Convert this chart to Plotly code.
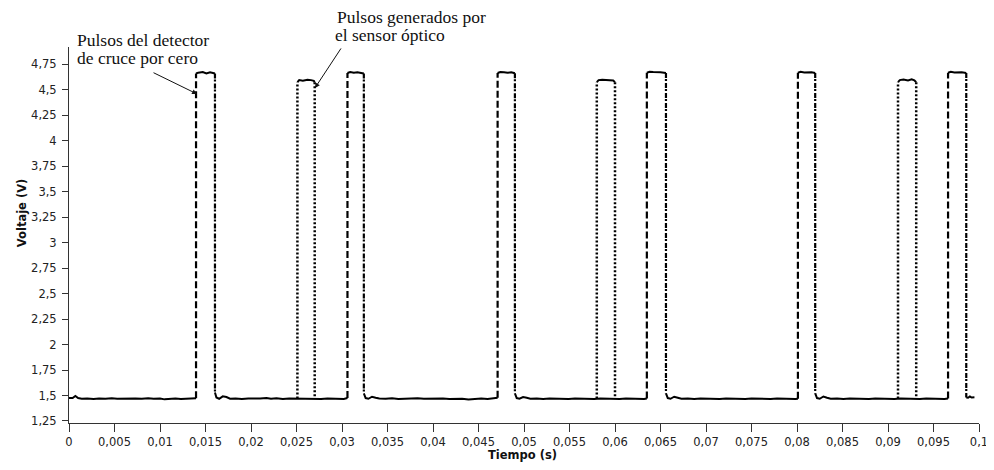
import plotly.graph_objects as go

# ---------------- data ----------------
# Zero-crossing detector pulses (dashed series): time (s) and voltage (V)
det_t = [
    0.0000, 0.0004, 0.0007, 0.0010, 0.0014, 0.0020, 0.0027, 0.0033, 0.0040, 0.0047,
    0.0053, 0.0060, 0.0067, 0.0073, 0.0080, 0.0087, 0.0093, 0.0100, 0.0105, 0.0110,
    0.0117, 0.0123, 0.0130, 0.0137, 0.01396,
    0.01396, 0.0142, 0.0147, 0.0151, 0.0155, 0.0159, 0.01604,
    0.01604, 0.0162, 0.0165, 0.0169, 0.0173, 0.0177, 0.0183, 0.0190, 0.0197, 0.0203,
    0.0210, 0.0217, 0.0222, 0.0228, 0.0235, 0.0242, 0.0250, 0.0256, 0.0263, 0.0270,
    0.0277, 0.0284, 0.0291, 0.0297, 0.0302, 0.0306,
    0.0306, 0.0309, 0.0313, 0.0317, 0.0321, 0.0324,
    0.0324, 0.0326, 0.0329, 0.0333, 0.0337, 0.0341, 0.0348, 0.0355, 0.0362, 0.0369,
    0.0376, 0.0383, 0.0390, 0.0397, 0.0404, 0.0411, 0.0418, 0.0425, 0.0432, 0.0439,
    0.0446, 0.0453, 0.0460, 0.0466, 0.0471,
    0.0471, 0.0474, 0.0478, 0.0482, 0.0486, 0.0490,
    0.0490, 0.0492, 0.0495, 0.0499, 0.0503, 0.0507, 0.0514, 0.0521, 0.0528, 0.0535,
    0.0542, 0.0549, 0.0556, 0.0563, 0.0570, 0.0577, 0.0584, 0.0591, 0.0598, 0.0605,
    0.0612, 0.0619, 0.0626, 0.0632, 0.0635,
    0.0635, 0.0638, 0.0642, 0.0646, 0.0650, 0.0656,
    0.0656, 0.0658, 0.0661, 0.0665, 0.0669, 0.0673, 0.0680, 0.0687, 0.0694, 0.0701,
    0.0708, 0.0715, 0.0722, 0.0729, 0.0736, 0.0743, 0.0750, 0.0757, 0.0764, 0.0771,
    0.0778, 0.0785, 0.0792, 0.0798, 0.0801,
    0.0801, 0.0804, 0.0808, 0.0812, 0.0816, 0.0820,
    0.0820, 0.0822, 0.0825, 0.0829, 0.0833, 0.0837, 0.0844, 0.0851, 0.0858, 0.0865,
    0.0872, 0.0879, 0.0886, 0.0893, 0.0900, 0.0907, 0.0914, 0.0921, 0.0928, 0.0935,
    0.0942, 0.0949, 0.0956, 0.0962, 0.0966,
    0.0966, 0.0969, 0.0973, 0.0977, 0.0981, 0.0986,
    0.0986, 0.0988, 0.0990, 0.0992, 0.0995,
]
det_v = [
    1.475, 1.475, 1.495, 1.475, 1.468, 1.470, 1.465, 1.470, 1.467, 1.472,
    1.468, 1.470, 1.466, 1.470, 1.468, 1.472, 1.467, 1.470, 1.462, 1.468,
    1.470, 1.466, 1.468, 1.470, 1.472,
    4.660, 4.668, 4.675, 4.660, 4.672, 4.668, 4.660,
    1.530, 1.480, 1.468, 1.492, 1.485, 1.468, 1.470, 1.465, 1.470, 1.467,
    1.470, 1.475, 1.468, 1.472, 1.466, 1.470, 1.468, 1.472, 1.466, 1.470,
    1.465, 1.470, 1.467, 1.470, 1.466, 1.475,
    4.665, 4.675, 4.668, 4.672, 4.665, 4.660,
    1.520, 1.475, 1.468, 1.488, 1.478, 1.470, 1.468, 1.472, 1.466, 1.470,
    1.468, 1.472, 1.467, 1.470, 1.466, 1.470, 1.465, 1.470, 1.468, 1.460,
    1.468, 1.470, 1.465, 1.470, 1.478,
    4.665, 4.675, 4.672, 4.668, 4.672, 4.662,
    1.520, 1.475, 1.468, 1.485, 1.478, 1.468, 1.470, 1.466, 1.470, 1.468,
    1.472, 1.466, 1.470, 1.467, 1.470, 1.465, 1.470, 1.468, 1.470, 1.466,
    1.470, 1.467, 1.470, 1.466, 1.470,
    4.668, 4.676, 4.674, 4.674, 4.672, 4.665,
    1.520, 1.475, 1.468, 1.488, 1.478, 1.468, 1.470, 1.466, 1.470, 1.468,
    1.472, 1.466, 1.470, 1.467, 1.470, 1.465, 1.470, 1.468, 1.470, 1.466,
    1.470, 1.467, 1.470, 1.466, 1.468,
    4.668, 4.676, 4.670, 4.674, 4.672, 4.665,
    1.520, 1.475, 1.468, 1.490, 1.478, 1.468, 1.470, 1.466, 1.470, 1.468,
    1.472, 1.466, 1.470, 1.467, 1.470, 1.465, 1.470, 1.468, 1.470, 1.466,
    1.470, 1.467, 1.470, 1.466, 1.470,
    4.668, 4.676, 4.670, 4.674, 4.672, 4.665,
    1.480, 1.478, 1.490, 1.480, 1.482,
]

# Optical sensor pulses (dotted series): time (s) and voltage (V)
opt_t = [
    0.0251, 0.0251, 0.0253, 0.0257, 0.0262, 0.0266, 0.0269, 0.0270, 0.0270, None,
    0.0580, 0.0580, 0.0582, 0.0586, 0.0591, 0.0595, 0.0598, 0.0600, 0.0600, None,
    0.0911, 0.0911, 0.0913, 0.0917, 0.0922, 0.0926, 0.0929, 0.0931, 0.0931,
]
opt_v = [
    1.470, 4.575, 4.595, 4.590, 4.598, 4.595, 4.588, 4.575, 1.470, None,
    1.470, 4.575, 4.595, 4.598, 4.598, 4.598, 4.592, 4.575, 1.470, None,
    1.470, 4.575, 4.595, 4.600, 4.592, 4.602, 4.592, 4.575, 1.470,
]

x_tickvals = [0, 0.005, 0.01, 0.015, 0.02, 0.025, 0.03, 0.035, 0.04, 0.045, 0.05,
              0.055, 0.06, 0.065, 0.07, 0.075, 0.08, 0.085, 0.09, 0.095, 0.1]
x_ticktext = ["0", "0,005", "0,01", "0,015", "0,02", "0,025", "0,03", "0,035", "0,04",
              "0,045", "0,05", "0,055", "0,06", "0,065", "0,07", "0,075", "0,08",
              "0,085", "0,09", "0,095", "0,1"]
y_tickvals = [1.25, 1.5, 1.75, 2, 2.25, 2.5, 2.75, 3, 3.25, 3.5, 3.75, 4, 4.25, 4.5, 4.75]
y_ticktext = ["1,25", "1,5", "1,75", "2", "2,25", "2,5", "2,75", "3", "3,25", "3,5",
              "3,75", "4", "4,25", "4,5", "4,75"]

x_title = "Tiempo (s)"
y_title = "Voltaje (V)"
note_det = ["Pulsos del detector", "de cruce por cero"]
note_opt = ["Pulsos generados por", "el sensor óptico"]


def parts(ts, vs):
    """Split a step series into its level parts and its rising / falling edges."""
    hx, hy, rx, ry, fx, fy = [], [], [], [], [], []
    for i, (t, v) in enumerate(zip(ts, vs)):
        if i > 0 and t is not None and ts[i - 1] is not None and t == ts[i - 1]:
            if v > vs[i - 1]:
                rx += [t, t, None]; ry += [vs[i - 1], v, None]
            else:
                fx += [t, t, None]; fy += [vs[i - 1], v, None]
            hx.append(None); hy.append(None)
        hx.append(t); hy.append(v)
    return hx, hy, rx, ry, fx, fy


ink = "#000000"
fig = go.Figure()

dh_x, dh_y, dr_x, dr_y, df_x, df_y = parts(det_t, det_v)
oh_x, oh_y, or_x, or_y, of_x, of_y = parts(opt_t, opt_v)

fig.add_trace(go.Scatter(x=oh_x, y=oh_y, mode="lines", line=dict(color=ink, width=2), hoverinfo="skip"))
fig.add_trace(go.Scatter(x=or_x + of_x, y=or_y + of_y, mode="lines",
                         line=dict(color=ink, width=2.5, dash="2px,2px"), hoverinfo="skip"))
fig.add_trace(go.Scatter(x=dh_x, y=dh_y, mode="lines", line=dict(color=ink, width=2), hoverinfo="skip"))
fig.add_trace(go.Scatter(x=dr_x, y=dr_y, mode="lines",
                         line=dict(color=ink, width=2.2, dash="7px,3px"), hoverinfo="skip"))
fig.add_trace(go.Scatter(x=df_x, y=df_y, mode="lines",
                         line=dict(color=ink, width=2.2, dash="5px,1px,2px,2px"), hoverinfo="skip"))

tick_font = dict(family="DejaVu Sans", size=11.5, color="#222222")
fig.update_xaxes(range=[0, 0.1], tickvals=x_tickvals, ticktext=x_ticktext,
                 showgrid=False, zeroline=False, showline=True, linecolor="#333333",
                 linewidth=1, ticks="outside", ticklen=8, tickcolor="#333333",
                 tickfont=tick_font, fixedrange=True)
fig.update_yaxes(range=[1.23, 4.92], tickvals=y_tickvals, ticktext=y_ticktext,
                 showgrid=False, zeroline=False, showline=True, linecolor="#333333",
                 linewidth=1, ticks="outside", ticklen=6, tickcolor="#333333",
                 ticklabelstandoff=3,
                 tickfont=tick_font, fixedrange=True)

serif = dict(family="Liberation Serif", size=17.5, color="#111111")
title_font = dict(family="DejaVu Sans", size=11.5, color="#111111")
ann = [
    dict(text="<b>" + x_title + "</b>", xref="paper", yref="paper", x=0.498, y=-0.085,
         xanchor="center", yanchor="middle", showarrow=False, font=title_font),
    dict(text="<b>" + y_title + "</b>", xref="paper", yref="paper", x=-0.0516, y=0.558,
         xanchor="center", yanchor="middle", textangle=-90, showarrow=False, font=title_font),
    dict(text=note_det[0], xref="paper", yref="paper", x=0.0066, y=1.0186,
         xanchor="left", yanchor="middle", showarrow=False, font=serif),
    dict(text=note_det[1], xref="paper", yref="paper", x=0.0066, y=0.9707,
         xanchor="left", yanchor="middle", showarrow=False, font=serif),
    dict(text=note_opt[0], xref="paper", yref="paper", x=0.2923, y=1.0798,
         xanchor="left", yanchor="middle", showarrow=False, font=serif),
    dict(text=note_opt[1], xref="paper", yref="paper", x=0.2901, y=1.0319,
         xanchor="left", yanchor="middle", showarrow=False, font=serif),
    dict(text="", x=0.01407, y=4.459, xref="x", yref="y", ax=-45, ay=-22,
         showarrow=True, arrowhead=2, arrowsize=1, arrowwidth=1, arrowcolor="#111111",
         standoff=0, startstandoff=0),
    dict(text="", x=0.02703, y=4.518, xref="x", yref="y", ax=27, ay=-41,
         showarrow=True, arrowhead=2, arrowsize=1, arrowwidth=1, arrowcolor="#111111",
         standoff=0, startstandoff=0),
]

# page body adds an 8px offset, so margins are shifted to land the plot area at 69..979 x 47..423
fig.update_layout(
    width=986, height=454,
    margin=dict(l=61, r=15, t=39, b=39, autoexpand=False),
    paper_bgcolor="white", plot_bgcolor="white",
    showlegend=False,
    annotations=ann,
)

fig.write_html("out.html", config={"displayModeBar": False})
